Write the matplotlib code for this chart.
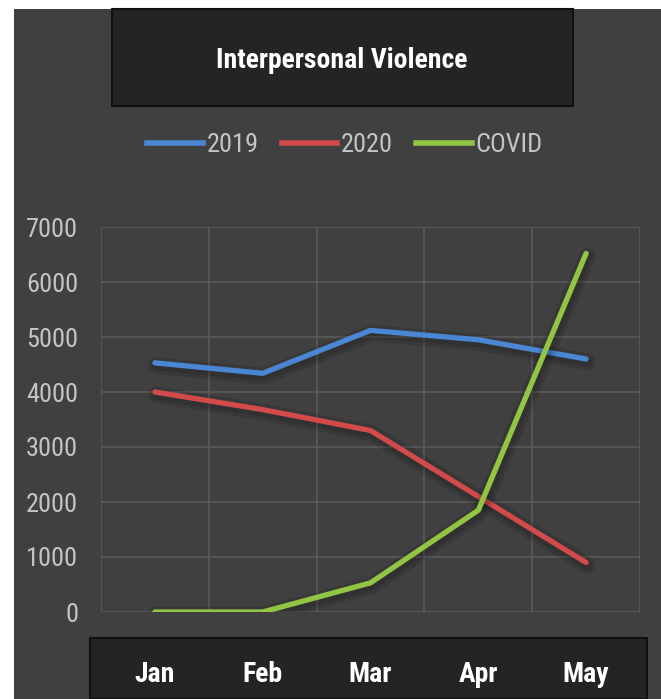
import matplotlib
matplotlib.use("Agg")
import matplotlib.pyplot as plt
import matplotlib.patheffects as pe
from matplotlib.patches import Rectangle
from matplotlib.lines import Line2D
from matplotlib.transforms import blended_transform_factory
from matplotlib import font_manager

# pick a narrow face if one is around
names = {f.name for f in font_manager.fontManager.ttflist}
narrow = [n for n in ["Liberation Sans Narrow", "Roboto Condensed", "Open Sans Condensed",
                      "DejaVu Sans Condensed"] if n in names]
plt.rcParams["font.family"] = narrow[:1] + ["DejaVu Sans"]
plt.rcParams["font.stretch"] = "condensed"

months = ["Jan", "Feb", "Mar", "Apr", "May"]
series_names = ["2019", "2020", "COVID"]
vals_2019 = [4530, 4340, 5120, 4950, 4600]
vals_2020 = [4000, 3680, 3300, 2100, 900]
vals_covid = [0, 0, 530, 1850, 6520]
y_ticks = [0, 1000, 2000, 3000, 4000, 5000, 6000, 7000]

BG = "#404040"
BOX = "#242424"
GRID = "#5a5a5a"
TXT = "#c4c4c4"
colours = ["#4a86d4", "#d24a4a", "#92c543"]

W, H = 661, 699
fig = plt.figure(figsize=(W / 100, H / 100), dpi=100, facecolor="white")

# dark card behind everything (thin white strip left and top)
fig.patches.append(Rectangle((14 / W, 0), 1 - 14 / W, 1 - 9 / H,
                             transform=fig.transFigure, facecolor=BG,
                             edgecolor="none", zorder=-2))

# title box
fig.patches.append(Rectangle((112 / W, 1 - 106 / H), (573 - 112) / W, (106 - 9) / H,
                             transform=fig.transFigure, facecolor=BOX,
                             edgecolor="#111111", lw=1.5, zorder=-1))
fig.text(342 / W, 1 - 61 / H, "Interpersonal Violence", color="white",
         fontsize=20, fontweight="bold", ha="center", va="center", zorder=2)

# x-label box
fig.patches.append(Rectangle((90 / W, 0), (647 - 90) / W, (699 - 638) / H,
                             transform=fig.transFigure, facecolor=BOX,
                             edgecolor="#111111", lw=1.5, zorder=-1))

ax = fig.add_axes([101 / W, (H - 612) / H, (640 - 101) / W, (612 - 227) / H])
ax.set_zorder(3)
ax.set_facecolor("none")
x = range(len(months))
for vals, c in zip([vals_2019, vals_2020, vals_covid], colours):
    ax.plot(x, vals, color=c, lw=3.8, solid_capstyle="round", solid_joinstyle="round",
            path_effects=[pe.SimpleLineShadow(offset=(1, -2), shadow_color="black",
                                              alpha=0.12, linewidth=12),
                          pe.SimpleLineShadow(offset=(1, -2), shadow_color="black",
                                              alpha=0.12, linewidth=7),
                          pe.Normal()])

ax.set_xlim(-0.5, len(months) - 0.5)
ax.set_ylim(0, 7000)
ax.set_yticks(y_ticks)
ax.set_yticklabels([str(v) for v in y_ticks])
ax.set_xticks([i - 0.5 for i in range(len(months) + 1)])
ax.set_xticklabels([])
ax.tick_params(length=0, labelsize=19, labelcolor=TXT, pad=16.5)
ax.grid(True, color=GRID, lw=1.2)
ax.set_axisbelow(True)
for s in ax.spines.values():
    s.set_visible(False)

# month labels inside the dark bottom box
tr = blended_transform_factory(ax.transData, fig.transFigure)
for i, m in enumerate(months):
    ax.text(i, 1 - 675 / H, m, transform=tr, color="white", fontsize=20,
            fontweight="bold", ha="center", va="center", clip_on=False)

handles = [Line2D([], [], color=c, lw=4) for c in colours]
fig.legend(handles, series_names, loc="center", bbox_to_anchor=(345 / W, 1 - 145 / H),
           ncol=3, frameon=False, fontsize=19, labelcolor=TXT, handlelength=2.1,
           handletextpad=0.15, columnspacing=0.87)

fig.savefig("out.png", dpi=100, facecolor=fig.get_facecolor())
